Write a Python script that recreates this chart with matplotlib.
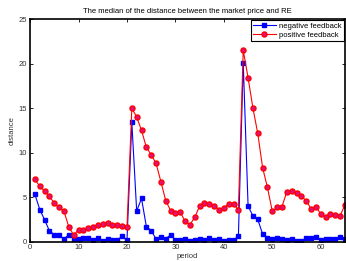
import matplotlib
matplotlib.use("Agg")
import matplotlib.pyplot as plt
import numpy as np

plt.rcParams.update({
    "font.family": ["Liberation Sans", "DejaVu Sans"],
    "font.size": 5.5,
    "xtick.direction": "in",
    "ytick.direction": "in",
    "xtick.top": True,
    "ytick.right": True,
})

period = np.arange(1, 66)

negative = [5.3, 3.6, 2.45, 1.2, 0.8, 0.7, 0.3, 0.8, 0.35, 0.35,
            0.45, 0.4, 0.2, 0.45, 0.1, 0.3, 0.2, 0.2, 0.6, 0.15,
            13.4, 3.45, 4.85, 1.7, 1.25, 0.3, 0.5, 0.35, 0.75, 0.2,
            0.15, 0.25, 0.1, 0.15, 0.35, 0.2, 0.45, 0.15, 0.3, 0.1,
            0.2, 0.2, 0.6, 20.1, 4.0, 2.9, 2.5, 0.85, 0.4, 0.25,
            0.4, 0.3, 0.2, 0.3, 0.1, 0.1, 0.4, 0.45, 0.5, 0.2,
            0.25, 0.25, 0.3, 0.5, 0.3]

positive = [7.0, 6.2, 5.7, 5.1, 4.3, 3.9, 3.4, 1.65, 0.75, 1.35,
            1.3, 1.55, 1.65, 1.85, 2.0, 2.1, 1.9, 1.85, 1.8, 1.6,
            15.0, 14.0, 12.5, 10.6, 9.75, 8.8, 6.75, 4.6, 3.5, 3.25,
            3.3, 2.3, 1.9, 2.75, 4.0, 4.3, 4.2, 4.05, 3.6, 3.8,
            4.25, 4.2, 3.6, 21.5, 18.4, 15.0, 12.15, 8.3, 6.1, 3.4,
            3.85, 3.95, 5.6, 5.7, 5.45, 5.1, 4.6, 3.7, 3.95, 3.1,
            2.75, 3.15, 3.0, 2.9, 4.15]

fig = plt.figure(figsize=(3.46, 2.61), dpi=100)
ax = fig.add_axes([0.087, 0.074, 0.91, 0.853])

ax.plot(period, negative, color="blue", marker="s", markersize=3,
        markerfacecolor="blue", markeredgecolor="blue", linewidth=0.8,
        label="negative feedback")
ax.plot(period, positive, color="red", marker="o", markersize=3.6,
        markerfacecolor="#e0107a", markeredgecolor="red", linewidth=0.8,
        label="positive feedback")

ax.set_xlim(0, 65)
ax.set_ylim(0, 25)
ax.set_xticks([0, 10, 20, 30, 40, 50, 60])
ax.set_yticks([0, 5, 10, 15, 20, 25])
ax.tick_params(length=2.5, width=0.6, pad=2, labelcolor="#333333")
for s in ax.spines.values():
    s.set_linewidth(1.2)

ax.set_xlabel("period", labelpad=1, color="#333333")
ax.set_ylabel("distance", labelpad=2, color="#333333")
ax.set_title("The median of the distance between the market price and RE",
             fontsize=5.5, pad=4)

leg = ax.legend(loc="upper right", fancybox=False, edgecolor="black",
                framealpha=1, borderpad=0.3, handlelength=3,
                handletextpad=0.4, labelspacing=0.2,
                borderaxespad=0.15)
leg.get_frame().set_linewidth(0.8)

fig.savefig("out.png", dpi=100)
